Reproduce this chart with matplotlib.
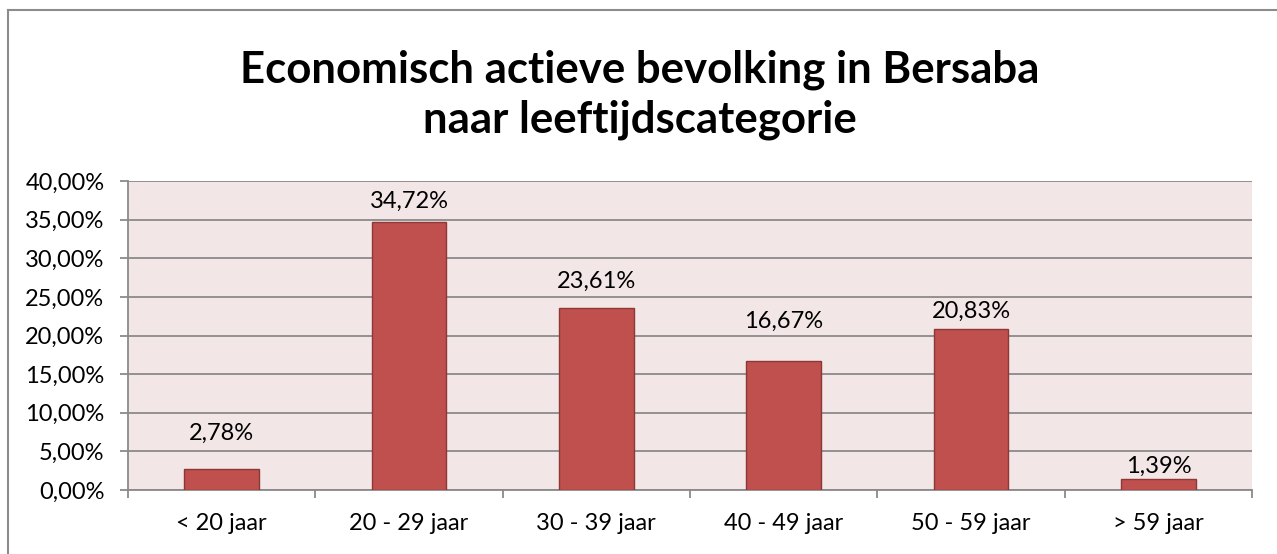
import matplotlib
matplotlib.use("Agg")
import matplotlib.pyplot as plt
from matplotlib.lines import Line2D
import numpy as np

categories = ["< 20 jaar", "20 - 29 jaar", "30 - 39 jaar", "40 - 49 jaar", "50 - 59 jaar", "> 59 jaar"]
values = [2.78, 34.72, 23.61, 16.67, 20.83, 1.39]
yticks = [0, 5, 10, 15, 20, 25, 30, 35, 40]
title_lines = ["Economisch actieve bevolking in Bersaba", "naar leeftijdscategorie"]
label_offsets = [17.5, 7, 11, 21.5, 5.5, 2]  # points above bar top

plt.rcParams['font.family'] = ['Lato', 'DejaVu Sans']

W, H = 1277, 554
fig = plt.figure(figsize=(W / 100, H / 100), dpi=100)
fig.patch.set_facecolor("white")

ax = fig.add_axes([128 / W, 1 - 490 / H, (1252 - 128) / W, (490 - 181) / H])
ax.set_facecolor("#F2E6E6")

x = np.arange(len(categories))
ax.bar(x, values, width=0.4, color="#C0504D", edgecolor="#8C3836", linewidth=1.0, zorder=3)

for xi, v, off in zip(x, values, label_offsets):
    ax.annotate(f"{v:.2f}%".replace(".", ","), (xi, v), xytext=(0, off), textcoords="offset points",
                ha="center", va="bottom", fontsize=17, color="black", zorder=4)

ax.set_xlim(-0.5, len(categories) - 0.5)
ax.set_ylim(0, 40)
ax.set_yticks(yticks)
ax.set_yticklabels([f"{t:.2f}%".replace(".", ",") for t in yticks], fontsize=17)
ax.yaxis.grid(True, color="#8A8A8A", linewidth=1.3, zorder=0)
ax.set_axisbelow(True)

ax.set_xticks(np.arange(len(categories) + 1) - 0.5)
ax.set_xticklabels([])
ax.set_xticks(x, minor=True)
ax.set_xticklabels(categories, minor=True, fontsize=17)
ax.tick_params(axis="x", which="minor", length=0, pad=16.5)
ax.tick_params(axis="x", which="major", length=6, color="#8A8A8A", width=1.3)
ax.tick_params(axis="y", length=6, color="#8A8A8A", width=1.3, pad=11)

for s in ["top", "right"]:
    ax.spines[s].set_visible(False)
for s in ["left", "bottom"]:
    ax.spines[s].set_color("#8A8A8A")
    ax.spines[s].set_linewidth(1.3)

fig.text(640 / W, 1 - 82 / H, title_lines[0], ha="center", va="baseline",
         fontsize=31.5, fontweight="bold")
fig.text(640 / W, 1 - 133 / H, title_lines[1], ha="center", va="baseline",
         fontsize=31.5, fontweight="bold")

# outer border (chart area cropped at right and bottom)
fig.add_artist(Line2D([7.5 / W, 7.5 / W], [0, 1 - 9.5 / H], color="#8C8C8C", linewidth=1.5))
fig.add_artist(Line2D([7.5 / W, 1], [1 - 9.5 / H, 1 - 9.5 / H], color="#8C8C8C", linewidth=1.5))

fig.savefig("out.png", dpi=100)
